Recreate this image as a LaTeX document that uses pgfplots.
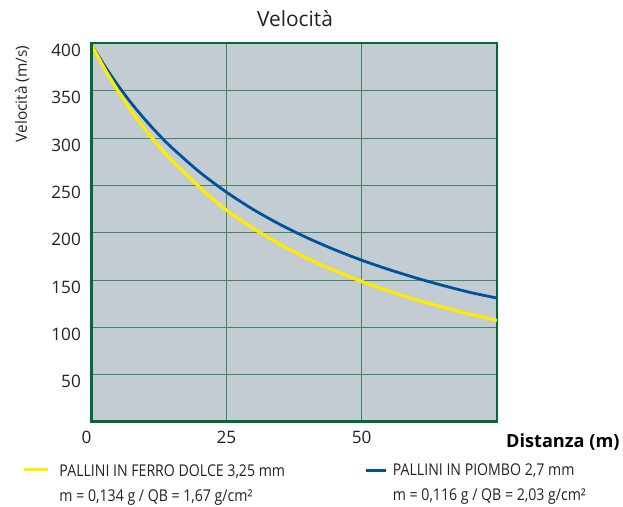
\documentclass[border=0pt]{standalone}
\usepackage{fontspec}
\setmainfont{Open Sans}
\newfontfamily\legfont{Open Sans}[FakeStretch=0.87]
\usepackage{pgfplots}
\pgfplotsset{compat=1.18}
\definecolor{bgc}{HTML}{C3CCD2}
\definecolor{gridc}{HTML}{3E8A5E}
\definecolor{framec}{HTML}{006B35}
\definecolor{yelc}{HTML}{FFEB00}
\definecolor{bluc}{HTML}{00529C}
\definecolor{txtc}{HTML}{222222}
\begin{document}
\begin{tikzpicture}
\path[use as bounding box] (-91bp,-85bp) rectangle (532bp,422bp);
\begin{axis}[
  at={(0,0)}, anchor=south west,
  scale only axis, width=406bp, height=378.5bp,
  xmin=0, xmax=75, ymin=0, ymax=400,
  xtick={0,25,50}, xticklabels={\hspace*{-9bp}0,25,50},
  ytick={50,100,...,400},
  grid=major,
  major grid style={draw=gridc, line width=1bp},
  major tick length=0pt,
  axis background/.style={fill=bgc},
  axis line style={draw=framec, line width=2bp},
  /pgf/number format/assume math mode=true,
  ticklabel style={font=\fontsize{17.2}{18}\selectfont, text=txtc, inner sep=0pt},
  xticklabel style={anchor=north, yshift=-9bp},
  yticklabel style={anchor=east, xshift=-10bp, yshift=-7bp},
]
\addplot[bluc, line width=2.8bp, smooth] coordinates {
(0,400) (2.5,376.6) (5,355.6) (7.5,336.6) (10,319.5) (12.5,303.8) (15,289.6)
(20,264.4) (25,243.0) (30,224.5) (35,208.5) (40,194.5) (45,182.1) (50,171.0)
(55,161.2) (60,152.3) (65,144.3) (70,137.0) (75,131.0)};
\addplot[yelc, line width=3.2bp, smooth] coordinates {
(0,400) (2.5,373.5) (5,349.8) (7.5,328.5) (10,309.3) (12.5,291.9) (15,276.1)
(20,248.4) (25,224.0) (30,204.6) (35,187.6) (40,172.8) (45,160.0) (50,148.6)
(55,138.4) (60,129.4) (65,121.3) (70,114.0) (75,107.4)};
\draw[framec, line width=3bp] (rel axis cs:0,1) -- (rel axis cs:0,0) -- (rel axis cs:1,0);
\end{axis}
\node[anchor=base, font=\fontsize{21}{24}\selectfont, text=txtc] at (204bp,395.3bp) {Velocità};
\node[anchor=base east, rotate=90, font=\fontsize{15.5}{18}\selectfont, text=txtc] at (-64bp,380bp) {Velocità (m/s)};
\node[anchor=base east, font=\fontsize{18.2}{22}\selectfont\bfseries, text=black] at (532bp,-25.7bp) {Distanza (m)};
\draw[yelc, line width=3.5bp] (-67bp,-47.3bp) -- (-43bp,-47.3bp);
\node[anchor=base west, inner sep=0pt, font=\legfont\fontsize{16.3}{18}\selectfont, text=txtc] at (-31.7bp,-54.7bp) {PALLINI IN FERRO DOLCE 3,25 mm};
\node[anchor=base west, inner sep=0pt, font=\legfont\fontsize{16.3}{18}\selectfont, text=txtc] at (-31.7bp,-79.7bp) {m = 0,134 g / QB = 1,67 g/cm²};
\draw[bluc, line width=3.2bp] (275bp,-48.5bp) -- (295bp,-48.5bp);
\node[anchor=base west, inner sep=0pt, font=\legfont\fontsize{16.3}{18}\selectfont, text=txtc] at (301.7bp,-53.7bp) {PALLINI IN PIOMBO 2,7 mm};
\node[anchor=base west, inner sep=0pt, font=\legfont\fontsize{16.3}{18}\selectfont, text=txtc] at (301.7bp,-78.7bp) {m = 0,116 g / QB = 2,03 g/cm²};
\end{tikzpicture}
\end{document}
